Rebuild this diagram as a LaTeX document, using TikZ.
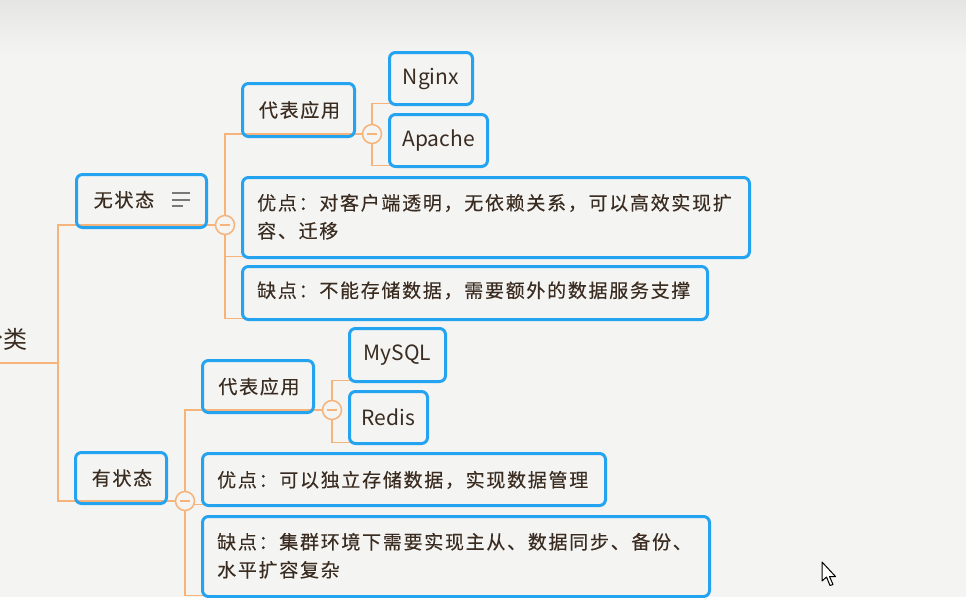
\documentclass[tikz,border=0pt]{standalone}
\usepackage{fontspec}
\newfontfamily\cjk[LetterSpace=9,FakeBold=0.3]{Noto Sans CJK SC}
\newfontfamily\cjklat{Noto Sans CJK SC}
\definecolor{boxblue}{RGB}{35,163,240}
\definecolor{lineorange}{RGB}{246,180,122}
\definecolor{txtcol}{RGB}{58,44,32}
\definecolor{bgcol}{RGB}{244,244,243}
\definecolor{topcol}{RGB}{229,229,228}
\definecolor{iconcol}{RGB}{120,120,120}
\pgfdeclarelayer{bgfill}
\pgfdeclarelayer{lines}
\pgfsetlayers{bgfill,lines,main}
\tikzset{
  topic/.style={draw=boxblue, line width=3pt, rounded corners=6pt, inner sep=0pt},
  conn/.style={draw=lineorange, line width=1.8pt},
  fold/.style={circle, draw=lineorange, line width=1.5pt, fill=bgcol, minimum size=19pt, inner sep=0pt,
    path picture={\draw[lineorange, line width=1.5pt] ([xshift=-5pt]path picture bounding box.center) -- ([xshift=5pt]path picture bounding box.center);}},
  cjktxt/.style={font=\cjk\fontsize{19}{28}\selectfont, text=txtcol, inner sep=0pt},
  lattxt/.style={font=\cjklat\fontsize{21}{24}\selectfont, text=txtcol, inner sep=0pt},
}
\begin{document}
\begin{tikzpicture}[x=1pt,y=-1pt]
\useasboundingbox (0,0) rectangle (966,597);
\begin{pgfonlayer}{bgfill}
  \fill[bgcol] (0,0) rectangle (966,597);
  \shade[top color=topcol, bottom color=bgcol] (0,0) rectangle (966,55);
\end{pgfonlayer}

% root
\node[font=\cjklat\fontsize{24}{28}\selectfont, text=txtcol, inner sep=0pt, anchor=base east] (root) at (28,348) {分类};
\coordinate (r0) at (0,363);
\coordinate (sp) at (58,0);

% level 1
\node[topic, minimum width=130pt, minimum height=53pt] (wu) at (141.5,201) {};
\node[cjktxt, anchor=base] (wut) at (124,207) {无状态};
\draw[iconcol, line width=2pt] (172,193) -- (190,193) (172,199.5) -- (190,199.5) (172,206) -- (183,206);
\node[fold] (c1) at (225,225) {};

\node[topic, minimum width=91pt, minimum height=51pt] (you) at (121,478) {};
\node[cjktxt] (yout) at (122,478) {有状态};
\node[fold] (c3) at (185,501) {};

% stateless children
\node[topic, minimum width=112pt, minimum height=53pt] (db1) at (298.5,110) {};
\node[cjktxt] (db1t) at (299.5,110) {代表应用};
\node[fold] (c2) at (372,134) {};
\node[topic, minimum width=83pt, minimum height=52pt, lattxt] (nginx) at (431,78.5) {Nginx};
\node[topic, minimum width=98pt, minimum height=52pt, lattxt] (apache) at (438.5,140.5) {Apache};
\node[topic, minimum width=507pt, minimum height=80pt] (yd1) at (496,217.5) {};
\node[cjktxt, anchor=base west, align=left] (yd1t) at (257,238) {优点：对客户端透明，无依赖关系，可以高效实现扩\\容、迁移};
\node[topic, minimum width=465pt, minimum height=53pt] (qd1) at (475,293) {};
\node[cjktxt, anchor=base west] (qd1t) at (257,297.5) {缺点：不能存储数据，需要额外的数据服务支撑};

% stateful children
\node[topic, minimum width=111pt, minimum height=52pt] (db2) at (258,386.5) {};
\node[cjktxt] (db2t) at (259,386.5) {代表应用};
\node[fold] (c4) at (332,410) {};
\node[topic, minimum width=96pt, minimum height=53pt, lattxt] (mysql) at (397.5,355) {MySQL};
\node[topic, minimum width=78pt, minimum height=52pt, lattxt] (redis) at (388.5,417.5) {Redis};
\node[topic, minimum width=403pt, minimum height=52pt] (yd2) at (404,479.5) {};
\node[cjktxt, anchor=base west] (yd2t) at (217,487) {优点：可以独立存储数据，实现数据管理};
\node[topic, minimum width=507pt, minimum height=80pt] (qd2) at (456,556.5) {};
\node[cjktxt, anchor=base west, align=left] (qd2t) at (217,577) {缺点：集群环境下需要实现主从、数据同步、备份、\\水平扩容复杂};

% connectors
\begin{pgfonlayer}{lines}
  \draw[conn] (r0) -- (r0 -| sp);
  \draw[conn] (c1.west) -- (c1.west -| sp) -- (c3.west -| sp) -- (c3.west);
  \draw[conn] (c1.north) |- (c2.west);
  \draw[conn] (c1.south) |- ([xshift=-3pt,yshift=2.5pt]yd1.south east);
  \draw[conn] (c1.south) |- ([xshift=-3pt,yshift=2.5pt]qd1.south east);
  \draw[conn] (c2.north) |- ([xshift=-3pt,yshift=2.5pt]nginx.south east);
  \draw[conn] (c2.south) |- ([xshift=-3pt,yshift=2.5pt]apache.south east);
  \draw[conn] (c3.north) |- (c4.west);
  \draw[conn] (c3.south) |- ([xshift=-3pt,yshift=2.5pt]yd2.south east);
  \draw[conn] (c3.south) |- ([xshift=-3pt,yshift=2.5pt]qd2.south east);
  \draw[conn] (c4.north) |- ([xshift=-3pt,yshift=2.5pt]mysql.south east);
  \draw[conn] (c4.south) |- ([xshift=-3pt,yshift=2.5pt]redis.south east);
\end{pgfonlayer}

% mouse cursor
\draw[black, fill=white, line width=1pt, line join=round]
  (822,562) -- (822,581) -- (826.5,577) -- (830,585.5) -- (833,584.5) -- (829.5,576.5) -- (835.5,576.5) -- cycle;
\end{tikzpicture}
\end{document}
